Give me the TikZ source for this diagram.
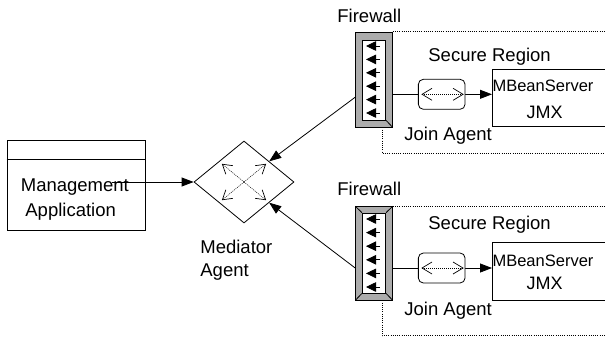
\documentclass[tikz,border=0pt]{standalone}
\usepackage{fontspec}
\setmainfont{Liberation Sans}
\usetikzlibrary{arrows.meta,shapes.geometric,calc}
\definecolor{fwgray}{RGB}{172,172,172}
\begin{document}
\begin{tikzpicture}[x=1pt,y=-1pt,line width=0.8pt,
  lbl/.style={font=\fontsize{18.5}{22}\selectfont,inner sep=0,anchor=base west},
  srvtxt/.style={font=\fontsize{16.5}{20}\selectfont,inner sep=0,anchor=base},
  jmxtxt/.style={font=\fontsize{18}{22}\selectfont,inner sep=0,anchor=base},
  tip/.style={-{Triangle[length=12pt,width=9pt]}},
  wallbox/.style={draw,fill=fwgray,minimum width=36.6pt,inner sep=0},
  wallin/.style={draw,fill=white,minimum width=23.4pt,inner sep=0},
  wallarrow/.style={-{Triangle[length=10pt,width=9.5pt]}},
  joinbox/.style={draw,fill=white,rounded corners=5pt,minimum width=46.7pt,minimum height=30pt,inner sep=0},
  srvbox/.style={draw,anchor=north west,minimum width=130pt,inner sep=0},
  barbs/.style={line width=0.5pt,dash pattern=on 1pt off 1pt,
    {Straight Barb[length=10pt,width=12pt,line width=0.7pt]}-{Straight Barb[length=10pt,width=12pt,line width=0.7pt]}},
  barb/.style={line width=0.5pt,dash pattern=on 1pt off 1pt,
    -{Straight Barb[length=9pt,width=11pt,line width=0.7pt]}},
  region/.style={line width=0.8pt,dash pattern=on 1pt off 1.2pt}]
\useasboundingbox (0,0) rectangle (605,338);
\clip (0,0) rectangle (605,338);

% management application
\node[draw,minimum width=138pt,minimum height=90pt,inner sep=0] (app) at (76,185) {};
\coordinate (appdiv) at (0,159);
\draw (app.west |- appdiv) -- (app.east |- appdiv);
\node[lbl] (apptxt1) at (20.5,191.7) {Management};
\node[lbl] (apptxt2) at (25,216) {Application};

% mediator agent
\node[draw,diamond,minimum width=100pt,minimum height=82pt,inner sep=0] (med) at (244,182) {};
\node[lbl] (medtxt1) at (200,253.3) {Mediator};
\node[lbl] (medtxt2) at (200,276) {Agent};
\foreach \a in {north east,north west,south east,south west}
  \draw[barb] (med.center) -- ($(med.center)!0.88!(med.\a)$);
\coordinate (appout) at (112,182);
\draw[tip] (appout) -- (med.west);

% upper firewall and secure region
\node[lbl] (fwtxt1) at (337,22) {Firewall};
\node[wallbox,minimum height=95pt] (fw1) at (374,79.5) {};
\node[wallin,minimum height=80pt] (fw1in) at (374,80) {};
\draw (fw1in.south east) -- (fw1.south east);
\foreach \i in {0,...,5}
  \draw[wallarrow] (379.5,46+13.4*\i) -- (366,46+13.4*\i);

\draw[region] (fw1.north east) -- ++(230,0);
\coordinate (sr1) at (382,153);
\draw[region] (sr1 |- fw1.south) -- (sr1) -- ++(230,0);
\node[lbl] (srtxt1) at (428,61.7) {Secure Region};

\node[srvbox,minimum height=57pt] (mbs1) at (492,69) {};
\node[srvtxt] (mbstxt1) at (543,91.7) {MBeanServer};
\node[jmxtxt] (jmxtxt1) at (544.5,118.3) {JMX};

\coordinate (j1) at (441.7,94.3);
\draw[tip] (fw1.east |- j1) -- (mbs1.west |- j1);
\node[joinbox] (join1) at (j1) {};
\draw[barbs] ($(join1.west)+(3.4,0)$) -- ($(join1.east)+(-1.7,0)$);
\node[lbl] (jtxt1) at (404,140.7) {Join Agent};

% lower firewall and secure region
\node[lbl] (fwtxt2) at (337,195) {Firewall};
\node[wallbox,minimum height=93.3pt] (fw2) at (374,253.3) {};
\node[wallin,minimum height=80pt] (fw2in) at (374,253) {};
\foreach \c in {north east,north west,south east,south west}
  \draw (fw2in.\c) -- (fw2.\c);
\foreach \i in {0,...,5}
  \draw[wallarrow] (379.5,219+13.6*\i) -- (366,219+13.6*\i);

\draw[region] (fw2.north east) -- ++(230,0);
\coordinate (sr2) at (382,335.7);
\draw[region] (sr2 |- fw2.south) -- (sr2) -- ++(230,0);
\node[lbl] (srtxt2) at (428,229.3) {Secure Region};

\node[srvbox,minimum height=58.3pt] (mbs2) at (492,241.7) {};
\node[srvtxt] (mbstxt2) at (543,266.7) {MBeanServer};
\node[jmxtxt] (jmxtxt2) at (544.5,289.3) {JMX};

\coordinate (j2) at (441.7,268);
\draw[tip] (fw2.east |- j2) -- (mbs2.west |- j2);
\node[joinbox] (join2) at (j2) {};
\draw[barbs] ($(join2.west)+(3.4,0)$) -- ($(join2.east)+(-1.7,0)$);
\node[lbl] (jtxt2) at (404,315) {Join Agent};

% firewalls to mediator
\draw[tip] ($(fw1.south west)!0.316!(fw1.north west)$) -- (med.north east);
\draw[tip] ($(fw2.south west)!0.343!(fw2.north west)$) -- (med.south east);
\end{tikzpicture}
\end{document}
